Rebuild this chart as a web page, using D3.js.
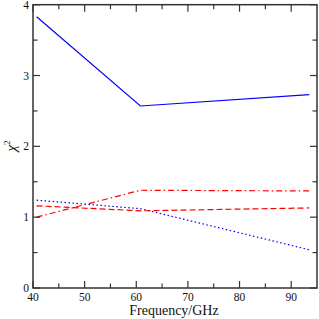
<!DOCTYPE html>
<html><head><meta charset="utf-8">
<script src="https://cdn.jsdelivr.net/npm/d3@7"></script>
<style>body{margin:0;background:#fff}svg{display:block}</style>
</head><body>
<svg id="c" width="319" height="319"></svg>
<script>
const freqs = [40.7, 60.8, 93.5];
const solidBlue = [3.83, 2.57, 2.73];
const dottedBlue = [1.24, 1.12, 0.54];
const dashedRed = [1.16, 1.09, 1.13];
const dashDotRed = [1.00, 1.38, 1.37];
const xTicks = [40, 50, 60, 70, 80, 90];
const xMinor = [45, 55, 65, 75, 85];
const yTicks = [0, 1, 2, 3, 4];
const yMinor = [0.5, 1.5, 2.5, 3.5];

const svg = d3.select("#c");
const L = 33, R = 317, T = 4.7, B = 288;
const x = d3.scaleLinear().domain([40, 95]).range([L, R]);
const y = d3.scaleLinear().domain([0, 4]).range([B, T]);
const font = "'Liberation Serif', 'Times New Roman', serif";
const axisCol = "#333";

const series = [
  {v: solidBlue, c: "#0000ff", d: null},
  {v: dottedBlue, c: "#0000ff", d: "1.5,2.5"},
  {v: dashedRed, c: "#ff0000", d: "6,3"},
  {v: dashDotRed, c: "#ff0000", d: "6,3,1.5,3"}
];
const line = d3.line().x((d,i)=>x(freqs[i])).y(d=>y(d));
series.forEach(s => {
  svg.append("path").datum(s.v).attr("d", line)
    .attr("fill","none").attr("stroke", s.c).attr("stroke-width",1.2)
    .attr("stroke-dasharray", s.d);
});

const g = svg.append("g");
function ticks(vals, len){
  vals.forEach(v=>{
    g.append("line").attr("x1",x(v)).attr("x2",x(v)).attr("y1",B).attr("y2",B-len).attr("stroke",axisCol).attr("stroke-width",1.2);
    g.append("line").attr("x1",x(v)).attr("x2",x(v)).attr("y1",T).attr("y2",T+len).attr("stroke",axisCol).attr("stroke-width",1.2);
  });
}
ticks(xTicks, 7); ticks(xMinor, 4.5);
function yt(vals, len){
  vals.forEach(v=>{
    g.append("line").attr("y1",y(v)).attr("y2",y(v)).attr("x1",L).attr("x2",L+len).attr("stroke",axisCol).attr("stroke-width",1.2);
    g.append("line").attr("y1",y(v)).attr("y2",y(v)).attr("x1",R).attr("x2",R-len).attr("stroke",axisCol).attr("stroke-width",1.2);
  });
}
yt(yTicks, 7); yt(yMinor, 4.5);
g.append("rect").attr("x",L).attr("y",T).attr("width",R-L).attr("height",B-T)
  .attr("fill","none").attr("stroke",axisCol).attr("stroke-width",1.5);

xTicks.forEach(v=>{
  svg.append("text").attr("x",x(v)).attr("y",300.5).attr("text-anchor","middle")
    .attr("font-family",font).attr("font-size",11.5).attr("fill","#111").text(v);
});
yTicks.forEach(v=>{
  svg.append("text").attr("x",29).attr("y",Math.max(y(v)+4, 9)).attr("text-anchor","end")
    .attr("font-family",font).attr("font-size",11.5).attr("fill","#111").text(v);
});
svg.append("text").attr("x",174).attr("y",314.5).attr("text-anchor","middle")
  .attr("font-family",font).attr("font-size",14).attr("fill","#111").text("Frequency/GHz");
const yl = svg.append("text").attr("transform","translate(16,146) rotate(-90)")
  .attr("text-anchor","middle").attr("font-family",font).attr("font-size",15).attr("fill","#111");
yl.append("tspan").attr("font-style","italic").text("χ");
yl.append("tspan").attr("font-size",9).attr("dy",-6).text("2");
</script>
</body></html>
